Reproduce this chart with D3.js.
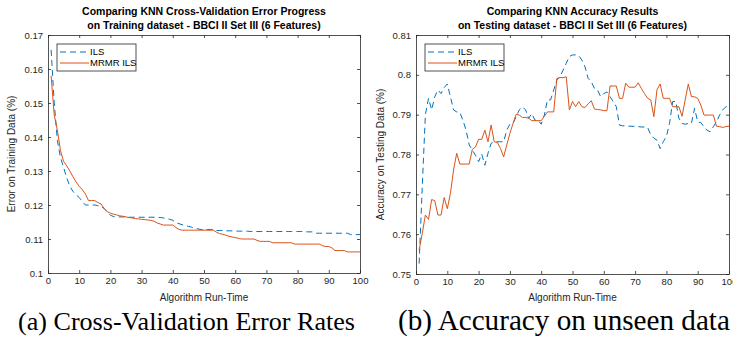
<!DOCTYPE html>
<html><head><meta charset="utf-8">
<script src="https://cdn.jsdelivr.net/npm/d3@7"></script>
<style>body{margin:0;background:#fff}svg{display:block}</style>
</head><body>
<svg id="c" width="733" height="341"></svg>
<script>
// ---- data ----
const runTime = d3.range(1, 101);
const xTicks = [0,10,20,30,40,50,60,70,80,90,100];
const errTicks = [0.1,0.11,0.12,0.13,0.14,0.15,0.16,0.17];
const accTicks = [0.75,0.76,0.77,0.78,0.79,0.8,0.81];
const seriesNames = ["ILS", "MRMR ILS"];

const errILS = [
 0.1656,0.150,0.139,0.134,0.131,0.128,0.1255,0.124,0.123,0.1222,
 0.121,0.120,0.120,0.120,0.120,0.1198,0.1195,0.119,0.118,0.117,
 0.1166,0.1165,0.1165,0.1165,0.1165,0.1164,0.1164,0.1164,0.1164,0.1164,
 0.1164,0.1164,0.1164,0.1164,0.1164,0.1163,0.1162,0.1160,0.1158,0.1155,
 0.1148,0.1145,0.1142,0.1140,0.1137,0.1135,0.1132,0.1130,0.1128,0.1128,
 0.1128,0.1128,0.1128,0.1125,0.1125,0.1125,0.1124,0.1124,0.1124,0.1124,
 0.1123,0.1123,0.1123,0.1123,0.1122,0.1122,0.1122,0.1122,0.1122,0.1122,
 0.1122,0.1122,0.1122,0.1122,0.1122,0.1122,0.1122,0.1122,0.1122,0.1122,
 0.1122,0.1122,0.1121,0.1121,0.1121,0.1117,0.1117,0.1117,0.1117,0.1117,
 0.1117,0.1117,0.1117,0.1117,0.1117,0.1117,0.1113,0.1113,0.1113,0.1113
];
const errMRMR = [
 0.158,0.1465,0.142,0.136,0.1328,0.1315,0.130,0.1283,0.1268,0.1255,
 0.1245,0.1232,0.1213,0.1213,0.1213,0.1207,0.1203,0.1190,0.1180,0.1176,
 0.1173,0.1171,0.1168,0.1167,0.1165,0.1163,0.1162,0.1160,0.1159,0.1158,
 0.1157,0.1156,0.1155,0.1152,0.1147,0.1144,0.1141,0.1141,0.1141,0.1141,
 0.1134,0.1128,0.1126,0.1126,0.1126,0.1126,0.1126,0.1126,0.1126,0.1126,
 0.1126,0.1126,0.1126,0.1120,0.1116,0.1114,0.1111,0.1108,0.1106,0.1104,
 0.1102,0.1100,0.1100,0.1100,0.1100,0.1100,0.1096,0.1093,0.1093,0.1093,
 0.1093,0.1089,0.1089,0.1089,0.1089,0.1089,0.1089,0.1089,0.1085,0.1085,
 0.1085,0.1085,0.1085,0.1085,0.1085,0.1085,0.1085,0.1080,0.1078,0.1078,
 0.1074,0.1066,0.1066,0.1066,0.1066,0.1062,0.1062,0.1062,0.1062,0.1062
];
const accILS = [
 0.7526,0.772,0.790,0.7941,0.7912,0.7945,0.7962,0.7953,0.7968,0.7977,
 0.7945,0.7912,0.7907,0.7906,0.7886,0.7861,0.7824,0.7811,0.7798,0.7782,
 0.7801,0.7773,0.7803,0.7828,0.7832,0.7832,0.7832,0.7832,0.7861,0.7876,
 0.7878,0.7895,0.7912,0.7920,0.7912,0.7891,0.7903,0.7886,0.7886,0.7876,
 0.7899,0.7937,0.7937,0.7962,0.7987,0.7995,0.8012,0.8029,0.8046,0.8050,
 0.8050,0.8048,0.8037,0.8020,0.7991,0.7983,0.7966,0.7962,0.7945,0.7953,
 0.7957,0.7945,0.7933,0.7920,0.7874,0.7872,0.7872,0.7871,0.7871,0.7870,
 0.7870,0.7869,0.7869,0.7868,0.7849,0.7841,0.7836,0.7815,0.7832,0.7845,
 0.7878,0.7933,0.7933,0.7891,0.7878,0.7876,0.7878,0.7878,0.7916,0.7882,
 0.7880,0.7870,0.7861,0.7857,0.7870,0.7882,0.7899,0.7912,0.7920,0.7920
];
const accMRMR = [
 0.7560,0.7602,0.7648,0.7637,0.7687,0.7684,0.7648,0.7648,0.7692,0.7664,
 0.7702,0.7761,0.7803,0.7776,0.7776,0.7776,0.7776,0.7813,0.7819,0.7838,
 0.7838,0.7861,0.7832,0.7874,0.7832,0.7830,0.7815,0.7794,0.7824,0.7853,
 0.7878,0.7901,0.7899,0.7893,0.7893,0.7891,0.7885,0.7885,0.7885,0.7885,
 0.7896,0.7907,0.7907,0.7907,0.7991,0.7993,0.7993,0.7995,0.7912,0.7933,
 0.7920,0.7933,0.7920,0.7918,0.7927,0.7935,0.7914,0.7913,0.7912,0.7910,
 0.7910,0.7972,0.7972,0.7972,0.7941,0.7941,0.7979,0.7969,0.7969,0.7969,
 0.7980,0.7966,0.7953,0.7941,0.7937,0.7895,0.7963,0.7977,0.7941,0.7941,
 0.7941,0.7920,0.7920,0.7920,0.7896,0.7937,0.7977,0.7945,0.7945,0.7941,
 0.7924,0.7899,0.7899,0.7899,0.7899,0.7871,0.7870,0.7868,0.7870,0.7871
];

const titlesA = ["Comparing KNN Cross-Validation Error Progress", "on Training dataset - BBCI II Set III (6 Features)"];
const titlesB = ["Comparing KNN Accuracy Results", "on Testing dataset - BBCI II Set III (6 Features)"];
const xLabel = "Algorithm Run-Time";
const yLabelA = "Error on Training Data (%)";
const yLabelB = "Accuracy on Testing Data (%)";
const captions = ["(a) Cross-Validation Error Rates", "(b) Accuracy on unseen data"];

// ---- drawing ----
const svg = d3.select("#c");
const AX = "#262626";
const C1 = "#0072BD", C2 = "#D95319";
const FONT = "'Liberation Sans', Arial, Helvetica, sans-serif";

function panel(o) {
  const x = d3.scaleLinear().domain([0, 100]).range([o.x0, o.x1]);
  const y = d3.scaleLinear().domain(o.yDomain).range([o.y1, o.y0]);
  const g = svg.append("g");
  const fmt = d3.format("~g");

  const ax = (gen, tr, labels) => {
    const a = g.append("g").attr("transform", tr).call(gen);
    a.selectAll("path,line").attr("stroke", AX).attr("stroke-width", 0.8);
    a.selectAll("text").attr("fill", AX).style("font-family", FONT).style("font-size", "9.5px");
    if (!labels) a.selectAll("text").remove();
    return a;
  };
  ax(d3.axisBottom(x).tickValues(xTicks).tickSizeInner(-3).tickSizeOuter(0).tickPadding(4).tickFormat(fmt), `translate(0,${o.y1})`, true);
  ax(d3.axisTop(x).tickValues(xTicks).tickSizeInner(-3).tickSizeOuter(0), `translate(0,${o.y0})`, false);
  ax(d3.axisLeft(y).tickValues(o.yTicks).tickSizeInner(-3).tickSizeOuter(0).tickPadding(5).tickFormat(fmt), `translate(${o.x0},0)`, true);
  ax(d3.axisRight(y).tickValues(o.yTicks).tickSizeInner(-3).tickSizeOuter(0), `translate(${o.x1},0)`, false);

  const line = d3.line().x((d, i) => x(runTime[i])).y(d => y(d));
  g.append("path").datum(o.s1).attr("d", line).attr("fill", "none")
    .attr("stroke", C1).attr("stroke-width", 1).attr("stroke-dasharray", "6,4");
  g.append("path").datum(o.s2).attr("d", line).attr("fill", "none")
    .attr("stroke", C2).attr("stroke-width", 1);

  // titles
  const cx = (o.x0 + o.x1) / 2;
  o.titles.forEach((t, i) => {
    g.append("text").attr("x", cx).attr("y", 15 + i * 14).attr("text-anchor", "middle")
      .style("font-family", FONT).style("font-weight", "bold").style("font-size", "10.5px")
      .attr("fill", "#000").text(t);
  });
  // axis labels
  g.append("text").attr("x", cx).attr("y", 301).attr("text-anchor", "middle")
    .style("font-family", FONT).style("font-size", "10px").attr("fill", AX).text(xLabel);
  g.append("text").attr("transform", `translate(${o.x0 - o.yLabOff},${(o.y0 + o.y1) / 2}) rotate(-90)`)
    .attr("text-anchor", "middle").style("font-family", FONT).style("font-size", "10px")
    .attr("fill", AX).text(o.yLabel);

  // legend
  const lg = g.append("g").attr("transform", `translate(${o.x0 + 9},44)`);
  lg.append("rect").attr("width", 79).attr("height", 27).attr("fill", "#fff")
    .attr("stroke", AX).attr("stroke-width", 0.8);
  seriesNames.forEach((n, i) => {
    const yy = 8 + i * 11;
    lg.append("line").attr("x1", 3).attr("x2", 32).attr("y1", yy).attr("y2", yy)
      .attr("stroke", i ? C2 : C1).attr("stroke-width", 1).attr("stroke-dasharray", i ? null : "6,4");
    lg.append("text").attr("x", 33).attr("y", yy + 3.3).style("font-family", FONT)
      .style("font-size", "9.5px").attr("fill", "#000").text(n);
  });

  // caption
  const cap = svg.append("text").attr("x", o.capX).attr("y", 330)
    .style("font-family", "'Liberation Serif', 'DejaVu Serif', serif").style("font-size", "20px")
    .attr("fill", "#000").text(o.caption);
  const w = cap.node().getComputedTextLength();
  cap.style("font-size", (20 * o.capW / w).toFixed(2) + "px");
}

panel({x0: 48, x1: 360, y0: 35, y1: 273, yDomain: [0.1, 0.17], yTicks: errTicks,
  s1: errILS, s2: errMRMR, titles: titlesA, yLabel: yLabelA, yLabOff: 33,
  caption: captions[0], capX: 18, capW: 337});
panel({x0: 416, x1: 729, y0: 35, y1: 274, yDomain: [0.75, 0.81], yTicks: accTicks,
  s1: accILS, s2: accMRMR, titles: titlesB, yLabel: yLabelB, yLabOff: 32,
  caption: captions[1], capX: 398, capW: 332});
</script>
</body></html>
